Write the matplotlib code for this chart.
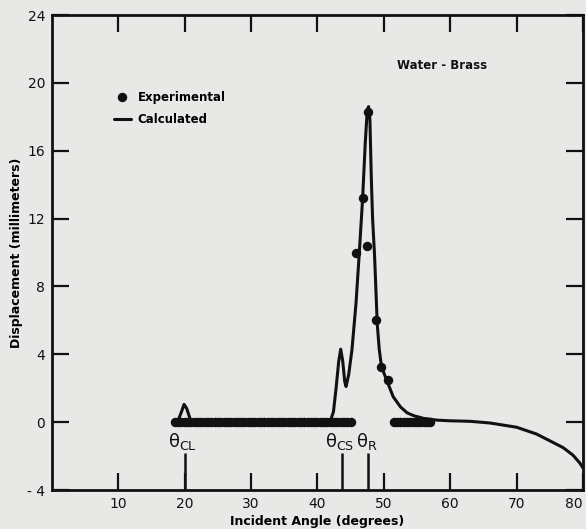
"""
Displacement vs incident angle, water-brass interface: measured points and calculated curve.
"""
import matplotlib
matplotlib.use("Agg")
import matplotlib.pyplot as plt

# experimental points (degrees, mm)
exp_x = [18.5, 19.0, 19.5, 20.0, 20.5, 21.0, 21.5, 22.0, 22.5, 23.0, 23.5, 24.0,
         24.5, 25.0, 25.5, 26.0, 26.5, 27.0, 27.5, 28.0, 28.5, 29.0, 29.5, 30.0,
         30.5, 31.0, 31.5, 32.0, 32.5, 33.0, 33.5, 34.0, 34.5, 35.0, 35.5, 36.0,
         36.5, 37.0, 37.5, 38.0, 38.5, 39.0, 39.5, 40.0, 40.5, 41.0, 41.5, 42.0,
         42.5, 43.0, 43.5, 44.0, 44.5, 45.0,
         45.8, 46.8, 47.4, 47.6, 48.8, 49.6, 50.6,
         51.5, 52.0, 52.5, 53.0, 53.5, 54.0, 54.5, 55.0, 55.5, 56.0, 56.5, 57.0]
exp_y = [0.0] * 54 + [10.0, 13.2, 10.4, 18.3, 6.05, 3.26, 2.5] + [0.0] * 12

# calculated curve
calc_x = [18.5, 19.0, 19.5, 19.9, 20.3, 20.8, 21.3, 22.0, 24.0, 26.0, 28.0, 30.0,
          35.0, 40.0, 41.5, 42.0, 42.4, 42.8, 43.2, 43.5, 43.8, 44.1, 44.3, 44.7,
          45.2, 45.8, 46.3, 46.8, 47.2, 47.5, 47.7, 47.9, 48.1, 48.3, 48.6, 48.85,
          49.0, 49.3, 49.6, 50.0, 50.6, 51.4, 52.5, 53.5, 54.5, 56.0, 58.0, 60.0,
          63.0, 66.0, 70.0, 73.0, 75.0, 77.0, 78.5, 79.5, 80.0]
calc_y = [0.0, 0.1, 0.6, 1.05, 0.8, 0.2, 0.0, -0.1, -0.12, -0.1, -0.05, 0.0,
          0.0, 0.02, 0.05, 0.15, 0.6, 2.0, 3.6, 4.3, 3.6, 2.4, 2.1, 2.8,
          4.3, 7.0, 10.0, 13.2, 16.5, 18.4, 18.6, 17.8, 14.5, 12.0, 9.8, 7.3,
          5.8, 4.3, 3.4, 2.9, 2.3, 1.5, 0.9, 0.55, 0.38, 0.22, 0.12, 0.08,
          0.05, -0.05, -0.3, -0.7, -1.1, -1.5, -1.95, -2.4, -2.7]

# critical / Rayleigh angles
crit_x = [20.0, 43.7, 47.6]
crit_lbl = [r"θ$_{\rm CL}$", r"θ$_{\rm CS}$", r"θ$_{\rm R}$"]
crit_lbl_x = [19.6, 43.3, 47.5]

x_ticks = [10, 20, 30, 40, 50, 60, 70, 80]
y_ticks = [-4, 0, 4, 8, 12, 16, 20, 24]
y_tick_lbl = ["- 4", "0", "4", "8", "12", "16", "20", "24"]

INK = "#111111"
BG = "#e8e8e6"

plt.rcParams["font.family"] = ["DejaVu Sans"]
plt.rcParams["mathtext.fontset"] = "dejavusans"
fig = plt.figure(figsize=(5.86, 5.29), dpi=100, facecolor=BG)
ax = fig.add_axes([0.0887, 0.0737, 0.9062, 0.8979], facecolor=BG)

ax.plot(calc_x, calc_y, color=INK, lw=2.2, solid_capstyle="round", label="Calculated")
ax.plot(exp_x, exp_y, "o", color=INK, ms=5.8, label="Experimental", zorder=3)

ax.vlines(crit_x, -4, -1.8, color=INK, lw=1.8)
for xl, t in zip(crit_lbl_x, crit_lbl):
    ax.text(xl, -1.15, t, ha="center", va="center", fontsize=13, color=INK)

ax.text(52.0, 21.0, "Water - Brass", ha="left", va="center", fontsize=8.5,
        fontweight="bold", color=INK)

h, l = ax.get_legend_handles_labels()
ax.legend(h[::-1], l[::-1], loc="upper left", bbox_to_anchor=(0.097, 0.862),
          frameon=False, handlelength=1.4, handletextpad=0.6,
          labelspacing=0.75, prop={"weight": "bold", "size": 8.5})

ax.set_xlim(0, 80)
ax.set_ylim(-4, 24)
ax.set_xticks(x_ticks)
ax.set_yticks(y_ticks)
ax.set_yticklabels(y_tick_lbl)
ax.tick_params(direction="in", length=12, width=1.6, colors=INK, labelsize=10,
               top=True, right=True, pad=5)
# the last x label sits on the figure edge; pull it inside
ax.get_xticklabels()[-1].set_horizontalalignment("right")
for s in ax.spines.values():
    s.set_linewidth(2.0)
    s.set_color(INK)

ax.set_xlabel("Incident Angle (degrees)", fontsize=9, fontweight="bold", labelpad=3)
ax.set_ylabel("Displacement (millimeters)", fontsize=9, fontweight="bold", labelpad=3)

fig.savefig("out.png", dpi=100, facecolor=BG)
